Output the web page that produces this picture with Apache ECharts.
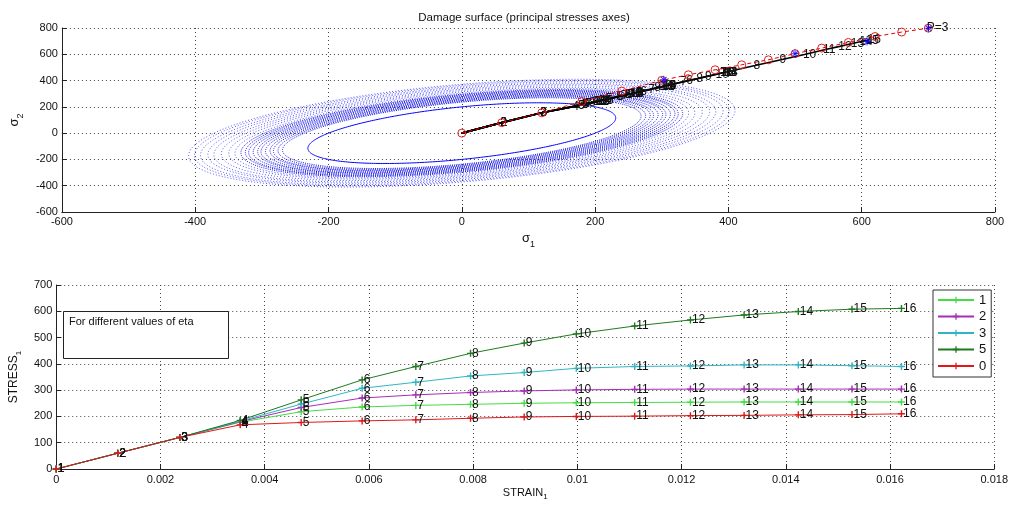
<!DOCTYPE html>
<html><head><meta charset="utf-8">
<script src="https://cdn.jsdelivr.net/npm/echarts@6/dist/echarts.min.js"></script>
<style>html,body{margin:0;padding:0;background:#fff}#c{width:1011px;height:505px}</style>
</head><body><div id="c"></div>
<script>
// ---------- Bottom subplot data ----------
const strain = [0, 0.00118, 0.00237, 0.00353, 0.0047, 0.00587, 0.0069, 0.00795, 0.00898, 0.00998, 0.0111, 0.01217, 0.0132, 0.01424, 0.01527, 0.01622];
const seriesNames = ['1', '2', '3', '5', '0'];
const stressEta1 = [0, 60, 120, 178, 218, 236, 242, 246, 250, 252, 253, 254, 255, 255, 255, 255];
const stressEta2 = [0, 60, 120, 180, 234, 270, 282, 291, 297, 301, 303, 304, 304, 304, 304, 304];
const stressEta3 = [0, 60, 120, 182, 247, 307, 330, 354, 367, 383, 390, 392, 396, 396, 393, 390];
const stressEta5 = [0, 60, 120, 185, 263, 339, 390, 440, 479, 514, 544, 567, 586, 599, 608, 611];
const stressEta0 = [0, 60, 120, 168, 177, 183, 187, 193, 198, 200, 201, 203, 204, 206, 207, 210];

// ---------- Top subplot data (sigma1 = stress values above, sigma2 below) ----------
const sigma2Eta1 = [0, 80, 155, 213, 259, 279, 286, 291, 296, 298, 299, 300, 301, 301, 301, 301];
const sigma2Eta2 = [0, 80, 155, 215, 277, 319, 332, 343, 350, 354, 356, 358, 358, 358, 358, 358];
const sigma2Eta3 = [0, 80, 155, 217, 292, 361, 388, 415, 430, 448, 457, 459, 463, 463, 460, 457];
const sigma2Eta5 = [0, 80, 155, 221, 310, 398, 457, 514, 559, 599, 634, 660, 682, 697, 707, 711];
const sigma2Eta0 = [0, 80, 155, 201, 212, 218, 223, 230, 236, 238, 239, 241, 243, 245, 246, 250];
const dashedPathS1 = [0, 60, 120, 180, 240, 300, 340, 380, 420, 460, 500, 540, 580, 620, 660, 700];
const dashedPathS2 = [0, 80, 155, 240, 320, 402, 444, 482, 520, 558, 605, 647, 690, 735, 769, 799];
const starPoints = [[303, 406], [500, 605], [608, 697], [700, 799]];
const endLabel = 'P=3';
// damage surfaces: sigma1^2 - 2*nu*sigma1*sigma2 + sigma2^2 = r^2
const surfaceR  = [200, 236, 242, 248, 254, 260, 266, 272, 278, 284, 290, 296, 304, 314, 324, 334, 344, 354, 364, 372];
const surfaceNu = [0.50, 0.48, 0.48, 0.48, 0.47, 0.47, 0.47, 0.46, 0.46, 0.46, 0.45, 0.45, 0.45, 0.44, 0.44, 0.44, 0.43, 0.43, 0.42, 0.42];
const surfaceKind = ['solid', 'dense', 'dense', 'dense', 'dense', 'dense', 'dense', 'dense', 'dense', 'dense', 'dense', 'dense',
                     'light', 'light', 'light', 'light', 'light', 'light', 'light', 'light'];

const colors = ['#44dd44', '#a82cb8', '#2fb6c4', '#1f7a1f', '#e01818'];
const FONT = '"Liberation Sans", Arial, Helvetica, sans-serif';
const plusSym = 'path://M4,0H6V4H10V6H6V10H4V6H0V4H4Z';
const thinPlus = 'path://M4.4,0H5.6V4.4H10V5.6H5.6V10H4.4V5.6H0V4.4H4.4Z';

const bottomStress = [stressEta1, stressEta2, stressEta3, stressEta5, stressEta0];
const topSigma2 = [sigma2Eta1, sigma2Eta2, sigma2Eta3, sigma2Eta5, sigma2Eta0];

const chart = echarts.init(document.getElementById('c'), null, {renderer: 'canvas'});

const axisCommon = {
  axisLine: {show: true, onZero: false, lineStyle: {color: '#222', width: 1}},
  axisTick: {show: true, inside: true, length: 5, lineStyle: {color: '#222'}},
  axisLabel: {color: '#111', fontSize: 11, fontFamily: FONT},
  splitLine: {show: true, lineStyle: {color: '#444', type: [1, 3], width: 1}},
  nameTextStyle: {color: '#111', fontFamily: FONT}
};

const series = [];
// damage surfaces
series.push({
  type: 'custom', xAxisIndex: 0, yAxisIndex: 0, silent: true, z: 1,
  data: surfaceR.map((r, i) => [0, 0, r, surfaceNu[i], i]),
  encode: {x: 0, y: 1},
  renderItem: function (params, api) {
    const r = api.value(2), nu = api.value(3), i = api.value(4);
    const a = r / Math.sqrt(1 - nu), b = r / Math.sqrt(1 + nu);
    const pts = [];
    for (let k = 0; k <= 360; k += 1) {
      const t = k * Math.PI / 180;
      const u = a * Math.cos(t), v = b * Math.sin(t);
      pts.push(api.coord([(u - v) / Math.SQRT2, (u + v) / Math.SQRT2]));
    }
    const kind = surfaceKind[i];
    let style;
    if (kind === 'solid') style = {stroke: '#0000ff', lineWidth: 1, fill: null};
    else if (kind === 'dense') style = {stroke: '#0000e6', lineWidth: 1, lineDash: [1, 1.2], fill: null, opacity: 0.9};
    else style = {stroke: '#2020ff', lineWidth: 1, lineDash: [1, 2], fill: null, opacity: 0.75};
    return {type: 'polyline', shape: {points: pts}, style: style};
  }
});
// black stress paths
for (let s = 0; s < 5; s++) {
  series.push({
    type: 'line', xAxisIndex: 0, yAxisIndex: 0, z: 3,
    data: bottomStress[s].map((v, i) => [v, topSigma2[s][i]]),
    symbol: 'circle', symbolSize: 1, showAllSymbol: true,
    lineStyle: {color: '#000', width: 1.6},
    itemStyle: {color: '#000'},
    label: {show: true, position: 'right', distance: -2, color: '#111', fontSize: 12, fontFamily: FONT,
      formatter: p => p.dataIndex === 0 ? '' : String(p.dataIndex + 1)},
    labelLayout: {hideOverlap: false},
    animation: false
  });
}
// red dashed path
series.push({
  type: 'line', xAxisIndex: 0, yAxisIndex: 0, z: 4,
  data: dashedPathS1.map((v, i) => [v, dashedPathS2[i]]),
  symbol: 'circle', symbolSize: 8, showAllSymbol: true,
  lineStyle: {color: '#e00000', width: 1, type: [4, 3]},
  itemStyle: {color: 'rgba(0,0,0,0)', borderColor: '#e02020', borderWidth: 1},
  label: {show: true, position: 'right', distance: -6, color: '#111', fontSize: 12, fontFamily: FONT,
    formatter: p => p.dataIndex === dashedPathS1.length - 1 ? endLabel : ''},
  animation: false
});
// blue asterisks (plus + rotated plus)
series.push({
  type: 'scatter', xAxisIndex: 0, yAxisIndex: 0, z: 5,
  data: starPoints, symbol: thinPlus, symbolSize: 8,
  itemStyle: {color: '#0000ff'}, animation: false
});
series.push({
  type: 'scatter', xAxisIndex: 0, yAxisIndex: 0, z: 5,
  data: starPoints, symbol: thinPlus, symbolSize: 8, symbolRotate: 45,
  itemStyle: {color: '#0000ff'}, animation: false
});
// bottom subplot
for (let s = 0; s < 5; s++) {
  series.push({
    name: seriesNames[s],
    type: 'line', xAxisIndex: 1, yAxisIndex: 1,
    data: strain.map((x, i) => [x, bottomStress[s][i]]),
    symbol: plusSym, symbolSize: 7, showAllSymbol: true,
    lineStyle: {color: colors[s], width: 1},
    itemStyle: {color: colors[s]},
    label: {show: true, position: 'right', distance: -2, color: '#111', fontSize: 12, fontFamily: FONT,
      formatter: p => String(p.dataIndex + 1)},
    labelLayout: {hideOverlap: false},
    animation: false
  });
}

chart.setOption({
  animation: false,
  textStyle: {fontFamily: FONT},
  title: {text: 'Damage surface (principal stresses axes)', left: 519, top: 7, textAlign: 'center',
    textStyle: {fontSize: 11.5, fontWeight: 'normal', color: '#111', fontFamily: FONT}},
  grid: [
    {left: 56, top: 28, width: 939, height: 184},
    {left: 56, top: 285, width: 939, height: 184}
  ],
  xAxis: [
    Object.assign({}, axisCommon, {type: 'value', gridIndex: 0, min: -600, max: 800, interval: 200,
      name: '{a|σ}{s|1}', nameLocation: 'middle', nameGap: 20,
      axisLabel: Object.assign({}, axisCommon.axisLabel, {margin: 4}),
      nameTextStyle: {rich: {a: {fontSize: 13, color: '#111', verticalAlign: 'bottom', padding: [0, 0, 4, 0]}, s: {fontSize: 9, color: '#111', verticalAlign: 'bottom'}}}}),
    Object.assign({}, axisCommon, {type: 'value', gridIndex: 1, min: 0, max: 0.018, interval: 0.002,
      name: '{a|STRAIN}{s|1}', nameLocation: 'middle', nameGap: 18,
      axisLabel: Object.assign({}, axisCommon.axisLabel, {margin: 5, formatter: v => String(+v.toFixed(3))}),
      nameTextStyle: {rich: {a: {fontSize: 11, color: '#111', verticalAlign: 'bottom', padding: [0, 0, 3, 0]}, s: {fontSize: 8, color: '#111', verticalAlign: 'bottom'}}}})
  ],
  yAxis: [
    Object.assign({}, axisCommon, {type: 'value', gridIndex: 0, min: -600, max: 800, interval: 200,
      name: '{a|σ}{s|2}', nameLocation: 'middle', nameGap: 32,
      axisLabel: Object.assign({}, axisCommon.axisLabel, {margin: 4}),
      nameTextStyle: {rich: {a: {fontSize: 13, color: '#111', verticalAlign: 'bottom', padding: [0, 0, 4, 0]}, s: {fontSize: 9, color: '#111', verticalAlign: 'bottom'}}}}),
    Object.assign({}, axisCommon, {type: 'value', gridIndex: 1, min: 0, max: 700, interval: 100,
      name: '{a|STRESS}{s|1}', nameLocation: 'middle', nameGap: 32,
      axisLabel: Object.assign({}, axisCommon.axisLabel, {margin: 4}),
      nameTextStyle: {rich: {a: {fontSize: 12, color: '#111', verticalAlign: 'bottom', padding: [0, 0, 3, 0]}, s: {fontSize: 8, color: '#111', verticalAlign: 'bottom'}}}})
  ],
  legend: {
    data: seriesNames, orient: 'vertical', left: 933, top: 290,
    itemWidth: 36, itemHeight: 8, itemGap: 2.5,
    padding: [3, 5, 4, 4],
    borderColor: '#333', borderWidth: 1, backgroundColor: '#fff',
    textStyle: {fontSize: 13, color: '#111', fontFamily: FONT, lineHeight: 14}
  },
  graphic: [
    {type: 'rect', left: 63, top: 311, z: 100, shape: {width: 165, height: 47},
      style: {fill: '#fff', stroke: '#222', lineWidth: 1}},
    {type: 'text', left: 69, top: 316, z: 101,
      style: {text: 'For different values of eta', fontSize: 11, fill: '#111', fontFamily: FONT}}
  ],
  series: series
});
</script></body></html>
